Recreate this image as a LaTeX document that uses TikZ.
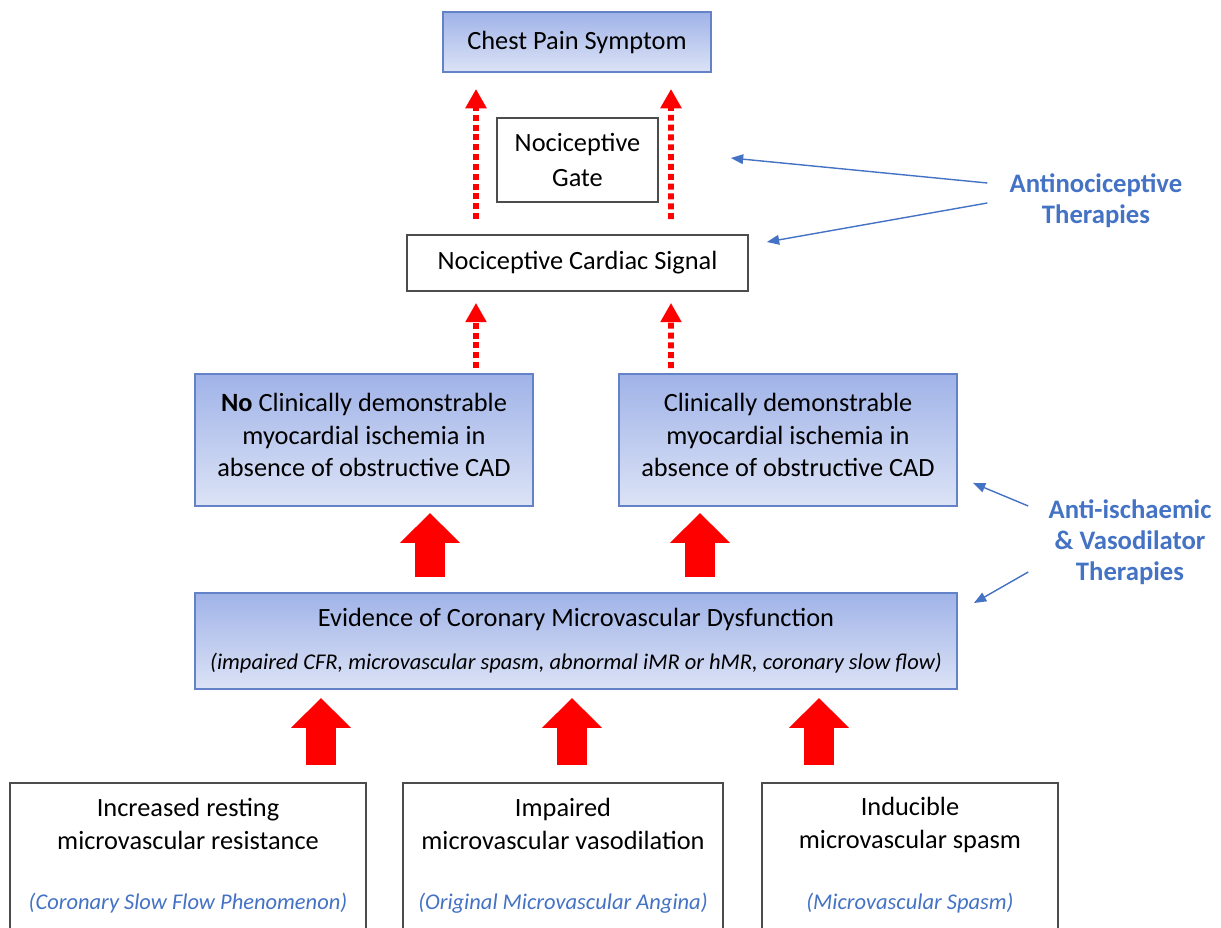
\documentclass[tikz,border=0pt]{standalone}
\usepackage{xcolor}
\usepackage{fontspec}
\setmainfont{Carlito}
\usepackage{tikz}
\usetikzlibrary{arrows.meta,calc,positioning}

\definecolor{edgeblue}{RGB}{100,130,200}
\definecolor{txtblue}{RGB}{68,114,196}
\definecolor{shadetop}{RGB}{160,179,232}
\definecolor{shadebot}{RGB}{220,227,246}
\def\px{0.02cm}

\begin{document}
\begin{tikzpicture}[
			x = 0.02cm, y = -0.02cm,
			every node/.style = {align=center, inner sep=0pt, font=\fontsize{15}{18.4}\selectfont},
			bluebox/.style = {draw=edgeblue, line width=1.1pt, top color=shadetop, bottom color=shadebot},
			plainbox/.style = {draw=black!70, line width=1pt, fill=white},
			therapy/.style = {text=txtblue, font=\fontsize{15.2}{17.8}\selectfont\bfseries},
			subtype/.style = {text=txtblue, font=\fontsize{12.8}{16}\selectfont\itshape},
			dotarrow/.style = {red, line width=3.4pt, dash pattern=on 3.4pt off 2.2pt, -{Triangle[width=11.5pt,length=11pt]}},
			bigarrow/.style = {red, line width=17pt, -{Triangle[width=33pt,length=17pt]}},
			thinarrow/.style = {txtblue, line width=0.8pt, -{Triangle[width=5.5pt,length=7pt]}}
			]

			\clip (0,0) rectangle (1221,928);

			% top part
			\node[bluebox, minimum width=268*\px, minimum height=60*\px] (chest) at (577,42) {Chest Pain Symptom};
			\node[plainbox, minimum width=161*\px, minimum height=84*\px] (gate) at (577.5,160) {Nociceptive\\[1pt]Gate};
			\node[plainbox, minimum width=341*\px, minimum height=56*\px] (signal) at (577.5,263) {Nociceptive Cardiac Signal};

			% ischemia
			\node[bluebox, minimum width=338*\px, minimum height=132*\px] (noisch) at (364,440) {};
			\node[bluebox, minimum width=338*\px, minimum height=132*\px] (isch) at (788,440) {};
			\node (noischt) at ($(noisch)+(0,-5)$) {\textbf{No} Clinically demonstrable\\myocardial ischemia in\\absence of obstructive CAD};
			\node (ischt) at ($(isch)+(0,-5)$) {Clinically demonstrable\\myocardial ischemia in\\absence of obstructive CAD};

			\node[bluebox, minimum width=762*\px, minimum height=96*\px] (cmd) at (576,641) {Evidence of Coronary Microvascular Dysfunction\\[6pt]{\fontsize{12.8}{14}\selectfont\itshape (impaired CFR, microvascular spasm, abnormal iMR or hMR, coronary slow flow)}};

			% mechanisms
			\node[plainbox, anchor=north, minimum width=356*\px, minimum height=200*\px] (mech1) at (188,782) {};
			\node[plainbox, anchor=north, minimum width=320*\px, minimum height=200*\px] (mech2) at (563,782) {};
			\node[plainbox, anchor=north, minimum width=296*\px, minimum height=200*\px] (mech3) at (910,782) {};
			\node (mech1t) at ($(mech1.north)+(0,42)$) {Increased resting\\microvascular resistance};
			\node (mech2t) at ($(mech2.north)+(0,42)$) {Impaired\\microvascular vasodilation};
			\node (mech3t) at ($(mech3.north)+(0,43)$) {Inducible\\microvascular spasm};
			\node[subtype] (mech1s) at ($(mech1.north)+(0,121)$) {(Coronary Slow Flow Phenomenon)};
			\node[subtype] (mech2s) at ($(mech2.north)+(0,121)$) {(Original Microvascular Angina)};
			\node[subtype] (mech3s) at ($(mech3.north)+(0,121)$) {(Microvascular Spasm)};

			% therapies
			\node[therapy] (antinoc) at (1096,201) {Antinociceptive\\Therapies};
			\node[therapy] (antiisch) at (1130,542) {Anti-ischaemic\\\& Vasodilator\\Therapies};

			% dotted arrows
			\draw[dotarrow] ($(signal.north)+(-101.5,-15)$) -- ($(chest.south)+(-101,16)$);
			\draw[dotarrow] ($(signal.north)+(93.5,-15)$) -- ($(chest.south)+(94,16)$);
			\draw[dotarrow] ($(noisch.north)+(112,-5)$) -- ($(signal.south)+(-101.5,11)$);
			\draw[dotarrow] ($(isch.north)+(-117,-5)$) -- ($(signal.south)+(93.5,11)$);

			% block arrows
			\draw[bigarrow] ($(cmd.north)+(-146,-15)$) -- ($(noisch.south)+(66,6)$);
			\draw[bigarrow] ($(cmd.north)+(124,-15)$) -- ($(isch.south)+(-88,6)$);
			\draw[bigarrow] ($(mech1.north)+(133,-17)$) -- ($(cmd.south)+(-255,8)$);
			\draw[bigarrow] ($(mech2.north)+(9,-17)$) -- ($(cmd.south)+(-4,8)$);
			\draw[bigarrow] ($(mech3.north)+(-91,-17)$) -- ($(cmd.south)+(243,8)$);

			% therapy pointers
			\coordinate (tgate) at ($(gate.east)+(72,-2)$);
			\coordinate (tsignal) at ($(signal.east)+(18,-21)$);
			\coordinate (tisch) at ($(isch.south east)+(15,-24)$);
			\coordinate (tcmd) at ($(cmd.north east)+(16,11)$);
			\draw[thinarrow] ($(antinoc.west)+(-22,-18)$) -- (tgate);
			\draw[thinarrow] ($(antinoc.west)+(-22,2)$) -- (tsignal);
			\draw[thinarrow] ($(antiisch.west)+(-20,-36)$) -- (tisch);
			\draw[thinarrow] ($(antiisch.west)+(-20,30)$) -- (tcmd);

		\end{tikzpicture}
\end{document}
